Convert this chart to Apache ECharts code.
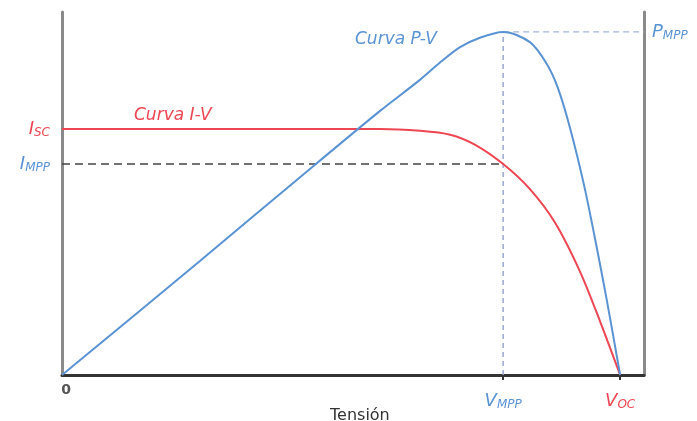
<!DOCTYPE html>
<html>
<head>
<meta charset="utf-8">
<script src="https://cdn.jsdelivr.net/npm/echarts@6/dist/echarts.min.js"></script>
<style>
  html, body { margin: 0; padding: 0; background: #fff; }
  #chart { width: 697px; height: 421px; }
</style>
</head>
<body>
<div id="chart"></div>
<script>
// voltage and current/power on a 0..100 relative scale
const V_MPP = 75.8
const V_OC = 95.9
const I_SC = 67.8
const I_MPP = 58.1
const P_MPP = 94.5

const ivVoltage = [0, 54.6, 61.5, 66.7, 71.0, 75.8, 80.4, 84.7, 89.0, 92.4, 95.9]
const ivCurrent = [67.8, 67.8, 67.3, 66.2, 63.4, 58.1, 51.2, 42.0, 28.5, 15.0, 0]

const pvVoltage = [0, 23.7, 40.9, 54.6, 61.5, 64.9, 68.4, 71.8, 75.8, 80.4, 83.3, 85.2, 87.3, 89.7, 91.8, 93.6, 95.9]
const pvPower = [0, 31.4, 54.5, 72.7, 81.3, 86.0, 90.3, 92.9, 94.5, 91.7, 85.7, 79.1, 68.0, 52.3, 35.8, 20.7, 0]

const xTickLabels = { 0: '{z|0}', [V_MPP]: '{vb|V}{sb|MPP}', [V_OC]: '{vr|V}{sr|OC}' }

const RED = '#ee4652'
const BLUE = '#5a93d4'
const FONT = 'DejaVu Sans'

const chart = echarts.init(document.getElementById('chart'), null, { renderer: 'canvas' })

const pair = (xs, ys) => xs.map((x, i) => [x, ys[i]])

const sub = (color, pad = 0) => ({
  color,
  fontFamily: FONT,
  fontStyle: 'italic',
  fontSize: 12,
  verticalAlign: 'bottom',
  padding: [pad + 8, 0, 0, 0],
})
const big = (color, pad = 0) => ({
  color,
  fontFamily: FONT,
  fontStyle: 'italic',
  fontSize: 18,
  padding: [pad, 0, 0, 0],
})

chart.setOption({
  animation: false,
  backgroundColor: '#fff',
  grid: { left: 62, right: 53, top: 12, bottom: 46 },
  xAxis: {
    type: 'value',
    min: 0,
    max: 100,
    splitLine: { show: false },
    axisLine: { lineStyle: { color: '#333', width: 3 } },
    axisTick: { show: true, customValues: [V_MPP, V_OC], length: 5, lineStyle: { color: '#333', width: 2 } },
    axisLabel: {
      customValues: [0, V_MPP, V_OC],
      margin: 8,
      formatter: v => xTickLabels[v] ?? '',
      rich: {
        z: { color: '#555', fontFamily: FONT, fontWeight: 'bold', fontSize: 14, padding: [0, 0, 9, 8] },
        vb: big(BLUE, 8), sb: sub(BLUE, 8),
        vr: big(RED, 8), sr: sub(RED, 8),
      },
    },
  },
  yAxis: [
    {
      type: 'value',
      min: 0,
      max: 100,
      splitLine: { show: false },
      axisLine: { show: true, lineStyle: { color: '#8a8a8a', width: 3 } },
      axisTick: { show: false },
      axisLabel: {
        customValues: [I_MPP, I_SC],
        margin: 12,
        formatter: v => (v === I_SC ? '{vr|I}{sr|SC}' : '{vb|I}{sb|MPP}'),
        rich: {
          vb: big(BLUE), sb: sub(BLUE),
          vr: big(RED), sr: sub(RED),
        },
      },
    },
    {
      type: 'value',
      position: 'right',
      min: 0,
      max: 100,
      splitLine: { show: false },
      axisLine: { show: true, lineStyle: { color: '#8a8a8a', width: 3 } },
      axisTick: { show: false },
      axisLabel: {
        customValues: [P_MPP],
        margin: 8,
        formatter: () => '{vb|P}{sb|MPP}',
        rich: { vb: big(BLUE), sb: sub(BLUE) },
      },
    },
  ],
  graphic: [
    {
      type: 'text', left: 355, top: 31,
      style: { text: 'Curva P-V', fill: BLUE, font: `italic 17px "${FONT}"` },
    },
    {
      type: 'text', left: 134, top: 107,
      style: { text: 'Curva I-V', fill: RED, font: `italic 17px "${FONT}"` },
    },
    {
      type: 'text', left: 330, top: 408,
      style: { text: 'Tensión', fill: '#333', font: `16px "${FONT}"` },
    },
  ],
  series: [
    {
      name: 'Impp guide',
      type: 'line',
      data: [[0, I_MPP], [V_MPP, I_MPP]],
      symbol: 'none',
      lineStyle: { color: '#444', width: 1.5, type: [8, 5] },
    },
    {
      name: 'Vmpp guide',
      type: 'line',
      yAxisIndex: 1,
      data: [[V_MPP, 0], [V_MPP, P_MPP]],
      symbol: 'none',
      lineStyle: { color: '#9aa8d0', width: 1.5, type: [5, 4] },
    },
    {
      name: 'Pmpp guide',
      type: 'line',
      yAxisIndex: 1,
      data: [[V_MPP, P_MPP], [100, P_MPP]],
      symbol: 'none',
      lineStyle: { color: '#a3b4dc', width: 1.2, type: [6, 4] },
    },
    {
      name: 'Curva I-V',
      type: 'line',
      data: pair(ivVoltage, ivCurrent),
      symbol: 'none',
      smooth: 0.3,
      lineStyle: { color: RED, width: 2 },
    },
    {
      name: 'Curva P-V',
      type: 'line',
      yAxisIndex: 1,
      data: pair(pvVoltage, pvPower),
      symbol: 'none',
      smooth: 0.3,
      lineStyle: { color: BLUE, width: 2 },
    },
  ],
})
</script>
</body>
</html>
